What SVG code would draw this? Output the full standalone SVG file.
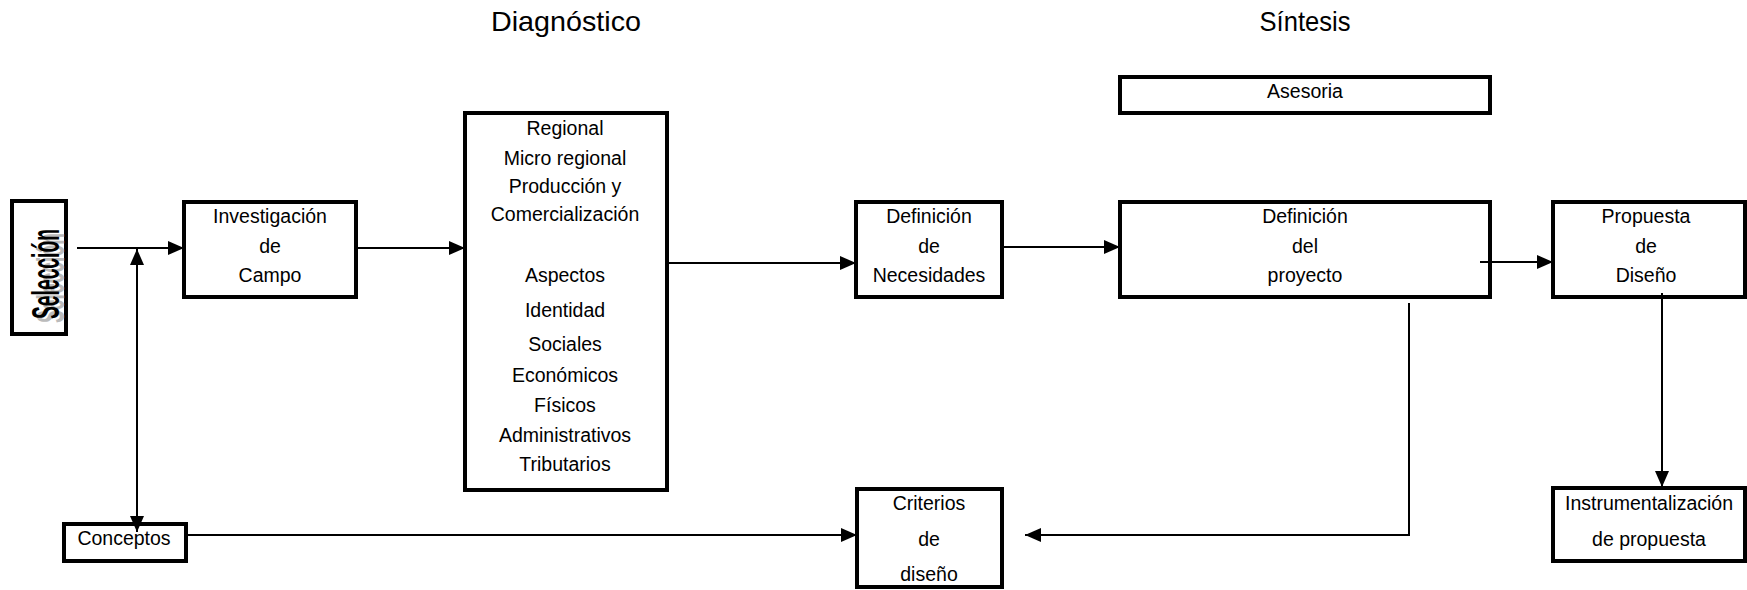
<svg xmlns="http://www.w3.org/2000/svg" width="1747" height="590" viewBox="0 0 1747 590">
<defs>
<marker id="arr" markerUnits="userSpaceOnUse" markerWidth="17" markerHeight="14" refX="16" refY="7" orient="auto">
<path d="M0,0 L16,7 L0,14 z" fill="#000"/>
</marker>
<style>
.box{fill:#fff;stroke:#000;stroke-width:4}
.t{font-family:"Liberation Sans",Arial,sans-serif;font-size:19.5px;fill:#000;text-anchor:middle}
.title{font-family:"Liberation Sans",Arial,sans-serif;font-size:28px;fill:#000;text-anchor:middle}
.c{fill:none;stroke:#000;stroke-width:2}
.sel{font-family:"Liberation Sans",Arial,sans-serif;font-size:38px;font-weight:bold}
</style>
</defs>
<rect width="1747" height="590" fill="#fff"/>
<g id="titles">
<text class="title" x="566" y="31" textLength="150" lengthAdjust="spacingAndGlyphs">Diagnóstico</text>
<text class="title" x="1305" y="31" textLength="91" lengthAdjust="spacingAndGlyphs">Síntesis</text>
</g>
<g id="seleccion">
<rect class="box" x="12" y="201" width="54" height="133"/>
<g transform="translate(59,319) rotate(-90)">
<text class="sel" textLength="90" lengthAdjust="spacingAndGlyphs" x="-4" y="5" fill="#bbb">Selección</text>
<text class="sel" textLength="90" lengthAdjust="spacingAndGlyphs" x="0" y="0" fill="#000">Selección</text>
</g>
</g>
<g id="investigacion">
<rect class="box" x="184" y="202" width="172" height="95"/>
<text class="t" x="270" y="223">Investigación</text>
<text class="t" x="270" y="253">de</text>
<text class="t" x="270" y="282">Campo</text>
</g>
<g id="diagnostico">
<rect class="box" x="465" y="113" width="202" height="377"/>
<text class="t" x="565" y="135">Regional</text>
<text class="t" x="565" y="165">Micro regional</text>
<text class="t" x="565" y="193">Producción y</text>
<text class="t" x="565" y="221">Comercialización</text>
<text class="t" x="565" y="282">Aspectos</text>
<text class="t" x="565" y="317">Identidad</text>
<text class="t" x="565" y="351">Sociales</text>
<text class="t" x="565" y="382">Económicos</text>
<text class="t" x="565" y="412">Físicos</text>
<text class="t" x="565" y="442">Administrativos</text>
<text class="t" x="565" y="471">Tributarios</text>
</g>
<g id="necesidades">
<rect class="box" x="856" y="202" width="146" height="95"/>
<text class="t" x="929" y="223">Definición</text>
<text class="t" x="929" y="253">de</text>
<text class="t" x="929" y="282">Necesidades</text>
</g>
<g id="asesoria">
<rect class="box" x="1120" y="77" width="370" height="36"/>
<text class="t" x="1305" y="98">Asesoria</text>
</g>
<g id="proyecto">
<rect class="box" x="1120" y="202" width="370" height="95"/>
<text class="t" x="1305" y="223">Definición</text>
<text class="t" x="1305" y="253">del</text>
<text class="t" x="1305" y="282">proyecto</text>
</g>
<g id="propuesta">
<rect class="box" x="1553" y="202" width="192" height="95"/>
<text class="t" x="1646" y="223">Propuesta</text>
<text class="t" x="1646" y="253">de</text>
<text class="t" x="1646" y="282">Diseño</text>
</g>
<g id="instrumentalizacion">
<rect class="box" x="1553" y="488" width="192" height="73"/>
<text class="t" x="1649" y="510">Instrumentalización</text>
<text class="t" x="1649" y="546">de propuesta</text>
</g>
<g id="conceptos">
<rect class="box" x="64" y="524" width="122" height="37"/>
<text class="t" x="124" y="545">Conceptos</text>
</g>
<g id="criterios">
<rect class="box" x="857" y="489" width="145" height="98"/>
<text class="t" x="929" y="510">Criterios</text>
<text class="t" x="929" y="546">de</text>
<text class="t" x="929" y="581">diseño</text>
</g>
<g id="connectors">
<line class="c" x1="77" y1="248" x2="184" y2="248" marker-end="url(#arr)"/>
<line class="c" x1="137" y1="532" x2="137" y2="249" marker-end="url(#arr)"/>
<line class="c" x1="137" y1="249" x2="137" y2="532" marker-end="url(#arr)"/>
<line class="c" x1="356" y1="248" x2="465" y2="248" marker-end="url(#arr)"/>
<line class="c" x1="667" y1="263" x2="856" y2="263" marker-end="url(#arr)"/>
<line class="c" x1="1002" y1="247" x2="1120" y2="247" marker-end="url(#arr)"/>
<line class="c" x1="1480" y1="262" x2="1553" y2="262" marker-end="url(#arr)"/>
<line class="c" x1="1662" y1="293" x2="1662" y2="487" marker-end="url(#arr)"/>
<polyline class="c" points="1409,303 1409,535 1025,535" marker-end="url(#arr)"/>
<line class="c" x1="186" y1="535" x2="857" y2="535" marker-end="url(#arr)"/>
</g>
</svg>
